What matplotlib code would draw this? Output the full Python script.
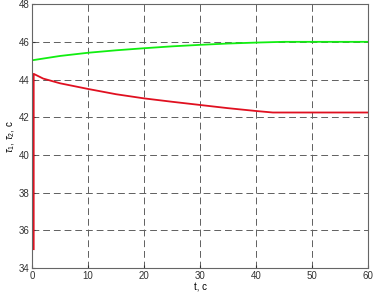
#!/usr/bin/env python3
import matplotlib
matplotlib.use('Agg')
from matplotlib import pyplot as plt

# green: tau_2
t_green = [0, 5, 10, 15, 20, 25, 30, 35, 40, 45, 50, 55, 60]
tau_green = [45.02, 45.25, 45.42, 45.55, 45.66, 45.76, 45.84, 45.91, 45.96, 46.0, 46.0, 46.0, 46.0]

# red: tau_1 (jump at start, then decay)
t_red = [0.3, 0.3, 2, 5, 10, 15, 20, 25, 30, 35, 40, 43, 50, 55, 60]
tau_red = [35.0, 44.3, 44.05, 43.8, 43.5, 43.22, 43.0, 42.82, 42.65, 42.48, 42.33, 42.25, 42.25, 42.25, 42.25]

xticks = [0, 10, 20, 30, 40, 50, 60]
yticks = [34, 36, 38, 40, 42, 44, 46, 48]

plt.rcParams['font.family'] = ['Liberation Sans', 'DejaVu Sans']
plt.rcParams['mathtext.fontset'] = 'custom'
plt.rcParams['mathtext.rm'] = 'Liberation Sans'
plt.rcParams['mathtext.it'] = 'Liberation Sans:italic'

fig = plt.figure(figsize=(3.74, 2.95), dpi=100)
ax = fig.add_axes([0.0856, 0.0915, 0.8984, 0.8945])

ax.plot(t_green, tau_green, color='#11ee11', lw=1.3)
ax.plot(t_red, tau_red, color='#e01020', lw=1.3)

ax.set_xlim(0, 60)
ax.set_ylim(34, 48)
ax.set_xticks(xticks)
ax.set_yticks(yticks)
ax.grid(True, ls=(0, (7, 4)), color='#606060', lw=0.7)
ax.tick_params(direction='in', length=2, labelsize=7, colors='#333333', pad=2)
for s in ax.spines.values():
    s.set_color('#666666')
    s.set_linewidth(0.8)

ax.set_xlabel('t, c', fontsize=7, labelpad=1)
ax.set_ylabel(r'$\tau_1$, $\tau_2$, c', fontsize=7, labelpad=1)

plt.savefig('out.png', dpi=100)
